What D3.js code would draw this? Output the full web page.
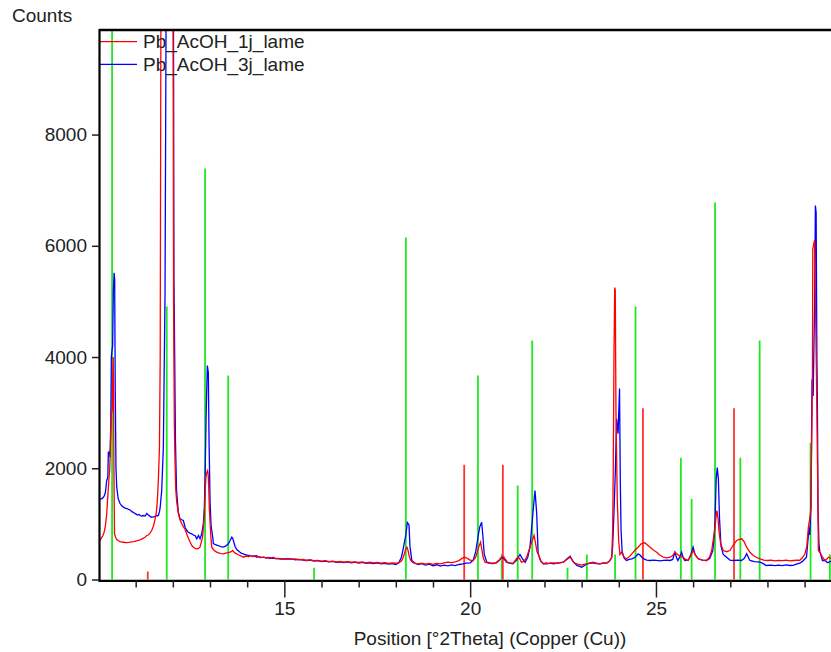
<!DOCTYPE html>
<html><head><meta charset="utf-8">
<script src="https://cdn.jsdelivr.net/npm/d3@7"></script>
<style>
html,body{margin:0;padding:0;background:#fff;}
svg{display:block;font-family:"Liberation Sans",Arial,sans-serif;}
</style></head><body>
<svg id="chart" width="831" height="652"></svg>
<script>
// ---------- data ----------
const seriesNames = ["Pb_AcOH_1j_lame", "Pb_AcOH_3j_lame"];
const seriesColors = ["#ff0000", "#0000ff"];

// [2Theta, counts]
const scan1j = [[10.04,700],[10.07,740],[10.09,760],[10.12,790],[10.15,850],[10.18,940],[10.20,1050],[10.22,1180],[10.24,1400],[10.26,1600],[10.28,1800],[10.30,1960],[10.32,2400],[10.34,2900],[10.35,3000],[10.37,3050],[10.385,3700],[10.395,4000],[10.405,3400],[10.415,2000],[10.43,822],[10.46,760],[10.49,720],[10.53,700],[10.58,680],[10.63,672],[10.67,670],[10.72,665],[10.76,662],[10.81,668],[10.85,671],[10.90,676],[10.95,680],[11.00,690],[11.05,700],[11.09,708],[11.12,714],[11.16,725],[11.20,740],[11.25,760],[11.30,791],[11.34,800],[11.38,830],[11.43,881],[11.48,960],[11.52,1079],[11.55,1180],[11.57,1300],[11.59,1500],[11.61,1780],[11.64,2379],[11.66,4000],[11.68,10500],[11.72,16000],[11.80,22000],[11.90,18000],[11.98,14000],[12.005,10500],[12.02,5000],[12.04,2800],[12.06,2080],[12.08,1600],[12.105,1390],[12.15,1181],[12.19,1080],[12.24,1001],[12.29,940],[12.33,900],[12.37,822],[12.42,740],[12.46,680],[12.51,611],[12.56,575],[12.60,560],[12.64,552],[12.69,560],[12.73,581],[12.77,680],[12.80,760],[12.83,1000],[12.85,1181],[12.867,1541],[12.89,1839],[12.92,1940],[12.935,1960],[12.95,1900],[12.966,1660],[12.98,1300],[13.00,1061],[13.02,800],[13.047,581],[13.09,540],[13.14,510],[13.18,491],[13.23,480],[13.27,470],[13.31,466],[13.36,462],[13.40,470],[13.45,480],[13.49,485],[13.54,491],[13.58,505],[13.61,521],[13.65,490],[13.69,470],[13.72,462],[13.77,440],[13.81,430],[13.85,418],[13.90,401],[13.95,415],[14.00,420],[14.04,410],[14.08,431],[14.13,415],[14.18,410],[14.22,425],[14.26,431],[14.30,410],[14.35,405],[14.40,395],[14.45,401],[14.50,388],[14.55,390],[14.60,398],[14.65,385],[14.70,401],[14.75,380],[14.80,380],[14.85,372],[14.90,375],[15.0,372],[15.1,380],[15.2,362],[15.3,370],[15.4,352],[15.5,360],[15.6,342],[15.7,352],[15.8,338],[15.9,345],[16.0,330],[16.1,338],[16.2,322],[16.3,330],[16.4,318],[16.5,326],[16.6,312],[16.7,322],[16.8,310],[16.9,318],[17.0,306],[17.1,315],[17.2,300],[17.3,312],[17.4,298],[17.5,306],[17.6,292],[17.7,302],[17.8,290],[17.9,300],[18.0,292],[18.08,305],[18.15,330],[18.20,400],[18.24,480],[18.27,560],[18.30,581],[18.33,520],[18.36,420],[18.40,342],[18.45,310],[18.5,290],[18.6,282],[18.7,295],[18.8,275],[18.9,288],[19.0,272],[19.1,290],[19.2,280],[19.3,300],[19.4,311],[19.5,305],[19.6,318],[19.7,340],[19.78,380],[19.85,401],[19.92,380],[20.0,350],[20.08,342],[20.15,400],[20.2,520],[20.24,600],[20.28,671],[20.31,560],[20.35,400],[20.40,311],[20.5,295],[20.6,288],[20.7,300],[20.78,350],[20.85,405],[20.9,413],[20.95,360],[21.0,311],[21.07,300],[21.15,288],[21.22,350],[21.28,401],[21.33,380],[21.38,311],[21.45,330],[21.52,400],[21.61,581],[21.67,700],[21.72,791],[21.76,650],[21.80,500],[21.83,462],[21.9,340],[21.97,282],[22.05,300],[22.1,285],[22.2,298],[22.33,293],[22.4,305],[22.51,311],[22.6,360],[22.69,401],[22.75,350],[22.8,300],[22.87,282],[22.93,270],[23.0,260],[23.07,275],[23.14,282],[23.22,300],[23.31,311],[23.4,295],[23.49,282],[23.58,300],[23.67,293],[23.75,330],[23.81,401],[23.835,881],[23.851,1990],[23.87,4000],[23.89,5250],[23.905,5200],[23.924,3000],[23.96,1400],[23.997,700],[24.03,450],[24.077,491],[24.14,400],[24.21,372],[24.3,420],[24.39,491],[24.45,540],[24.52,581],[24.6,640],[24.70,660],[24.77,620],[24.84,581],[24.93,530],[25.02,491],[25.1,440],[25.20,401],[25.29,390],[25.38,401],[25.45,430],[25.51,491],[25.58,450],[25.65,420],[25.73,401],[25.80,360],[25.87,342],[25.94,430],[26.00,521],[26.07,430],[26.14,372],[26.25,350],[26.36,342],[26.44,400],[26.50,521],[26.56,800],[26.59,940],[26.62,1150],[26.64,1240],[26.67,1100],[26.69,900],[26.74,650],[26.81,521],[26.9,500],[26.99,521],[27.08,620],[27.17,701],[27.24,720],[27.31,731],[27.37,680],[27.44,581],[27.53,490],[27.62,431],[27.7,400],[27.80,372],[27.9,350],[28.0,342],[28.1,350],[28.2,335],[28.3,345],[28.4,338],[28.5,348],[28.6,335],[28.7,342],[28.8,350],[28.87,345],[28.95,400],[29.01,462],[29.06,600],[29.10,940],[29.14,1100],[29.17,1300],[29.21,3578],[29.22,5946],[29.27,6108],[29.32,3578],[29.355,1600],[29.37,520],[29.41,491],[29.48,400],[29.55,342],[29.6,370],[29.64,401],[29.68,390],[29.72,380]];

const scan3j = [[10.04,1450],[10.07,1455],[10.09,1451],[10.12,1470],[10.15,1500],[10.18,1550],[10.20,1650],[10.22,1780],[10.25,1830],[10.265,2290],[10.29,2290],[10.31,2200],[10.33,2800],[10.345,4000],[10.36,4100],[10.38,4200],[10.40,5200],[10.42,5514],[10.435,5400],[10.45,3400],[10.47,2000],[10.49,1660],[10.53,1450],[10.58,1366],[10.62,1330],[10.67,1300],[10.72,1285],[10.76,1276],[10.81,1260],[10.85,1250],[10.90,1220],[10.95,1200],[11.00,1180],[11.05,1160],[11.09,1170],[11.12,1150],[11.16,1140],[11.20,1150],[11.25,1140],[11.30,1186],[11.34,1160],[11.38,1140],[11.43,1120],[11.48,1125],[11.52,1135],[11.55,1150],[11.58,1140],[11.61,1150],[11.64,1220],[11.66,1300],[11.70,1600],[11.745,2379],[11.764,3578],[11.79,5140],[11.82,10500],[11.86,20000],[11.95,18000],[12.00,13000],[12.015,11000],[12.03,5400],[12.05,4000],[12.07,2500],[12.10,1600],[12.148,1210],[12.194,1091],[12.24,1075],[12.283,1061],[12.329,940],[12.374,880],[12.417,850],[12.46,835],[12.509,822],[12.55,800],[12.598,791],[12.643,731],[12.69,791],[12.732,731],[12.778,822],[12.821,1001],[12.848,1300],[12.867,1780],[12.893,2860],[12.928,3848],[12.955,3720],[12.974,2500],[13.001,1420],[13.028,970],[13.074,760],[13.09,647],[13.15,625],[13.216,611],[13.29,590],[13.359,581],[13.42,600],[13.493,642],[13.54,700],[13.585,760],[13.612,740],[13.628,701],[13.674,593],[13.72,540],[13.808,491],[13.85,470],[13.9,460],[13.95,445],[14.0,440],[14.077,431],[14.15,420],[14.2,428],[14.257,401],[14.3,410],[14.35,395],[14.435,401],[14.5,390],[14.55,395],[14.6,382],[14.704,385],[14.796,372],[14.85,378],[14.9,365],[15.0,372],[15.1,365],[15.2,372],[15.3,355],[15.4,362],[15.5,348],[15.6,342],[15.7,350],[15.8,332],[15.9,340],[16.0,322],[16.1,330],[16.2,316],[16.3,325],[16.4,308],[16.5,318],[16.6,302],[16.7,315],[16.8,300],[16.9,312],[17.0,296],[17.1,308],[17.2,292],[17.3,300],[17.4,286],[17.5,298],[17.6,280],[17.7,292],[17.8,275],[17.9,285],[18.0,270],[18.08,300],[18.15,400],[18.20,557],[18.24,700],[18.27,800],[18.31,1025],[18.355,980],[18.38,600],[18.43,342],[18.5,300],[18.6,270],[18.7,285],[18.8,260],[18.9,275],[19.0,248],[19.1,265],[19.2,240],[19.3,258],[19.4,245],[19.5,262],[19.6,250],[19.7,270],[19.8,280],[19.9,293],[20.0,300],[20.08,342],[20.15,500],[20.22,800],[20.26,950],[20.31,1030],[20.34,800],[20.38,450],[20.45,311],[20.52,300],[20.6,288],[20.7,300],[20.78,340],[20.85,401],[20.9,380],[20.98,311],[21.05,295],[21.15,282],[21.25,350],[21.34,450],[21.4,380],[21.48,311],[21.55,400],[21.61,581],[21.69,1200],[21.745,1600],[21.79,1200],[21.83,462],[21.9,330],[21.97,282],[22.05,280],[22.15,295],[22.25,283],[22.33,293],[22.42,300],[22.51,311],[22.6,370],[22.69,419],[22.76,330],[22.87,252],[22.93,240],[23.0,221],[23.07,250],[23.14,282],[23.22,290],[23.31,300],[23.4,285],[23.49,282],[23.58,295],[23.67,293],[23.75,330],[23.81,401],[23.835,600],[23.87,1200],[23.91,2000],[23.94,2890],[23.98,2620],[24.02,3434],[24.04,1800],[24.06,900],[24.09,500],[24.15,380],[24.21,342],[24.28,360],[24.35,372],[24.44,400],[24.52,462],[24.57,440],[24.65,380],[24.75,350],[24.84,342],[24.93,350],[25.02,342],[25.12,335],[25.2,342],[25.3,350],[25.38,342],[25.45,360],[25.51,491],[25.56,380],[25.59,342],[25.65,420],[25.69,491],[25.74,380],[25.78,342],[25.87,350],[25.94,450],[26.0,581],[26.05,450],[26.14,372],[26.25,350],[26.36,342],[26.45,380],[26.53,521],[26.57,800],[26.59,1061],[26.62,1800],[26.65,2014],[26.68,1800],[26.71,1100],[26.75,600],[26.81,450],[26.9,401],[26.99,350],[27.1,342],[27.2,350],[27.3,342],[27.38,380],[27.44,462],[27.5,380],[27.53,342],[27.65,320],[27.8,311],[27.9,280],[27.96,252],[28.1,260],[28.2,248],[28.3,258],[28.4,250],[28.5,262],[28.6,252],[28.69,255],[28.78,275],[28.87,293],[28.95,330],[29.05,401],[29.12,940],[29.14,800],[29.17,1300],[29.20,3600],[29.23,3300],[29.27,5000],[29.29,6724],[29.31,6600],[29.33,4000],[29.345,3070],[29.36,1290],[29.385,650],[29.41,500],[29.48,342],[29.55,342],[29.62,300],[29.68,320],[29.72,330]];

// reference patterns (sticks): [2Theta, counts]
const greenSticks = [[10.365,9900],[11.836,4908],[12.867,7389],[13.49,3667],[15.80,210],[18.27,6148],[20.21,3667],[20.85,462],[21.28,1690],[21.67,4297],[22.62,210],[23.14,450],[23.90,450],[24.45,4908],[25.67,2188],[25.96,1450],[26.59,6778],[27.27,2188],[27.79,4297],[29.16,2457],[29.68,450]];
const redSticks = [[11.325,144],[19.84,2062],[20.88,2062],[24.65,3080],[27.10,3080]];

const xMajorTicks = [15, 20, 25];
const xMinorTicks = [11,12,13,14,16,17,18,19,21,22,23,24,26,27,28,29];
const yTicks = [0, 2000, 4000, 6000, 8000];
const xDomain = [10.04, 29.71];
const yDomain = [0, 9880];

// ---------- drawing ----------
const svg = d3.select("#chart");
const L = 100, R = 831, T = 30, B = 579.5;
const FS = 19;
const x = d3.scaleLinear().domain(xDomain).range([L, R]);
const y = d3.scaleLinear().domain(yDomain).range([B, T]);
const txt = "#222";

svg.append("defs").append("clipPath").attr("id","plotclip")
  .append("rect").attr("x", L).attr("y", T).attr("width", R - L).attr("height", B - T + 1);

const plot = svg.append("g").attr("clip-path","url(#plotclip)");

plot.selectAll("line.gs").data(greenSticks).enter().append("line")
  .attr("class","gs")
  .attr("x1", d => x(d[0])).attr("x2", d => x(d[0]))
  .attr("y1", y(0)).attr("y2", d => y(d[1]))
  .attr("stroke", "#1ee81e").attr("stroke-width", 1.8);

plot.selectAll("line.rs").data(redSticks).enter().append("line")
  .attr("class","rs")
  .attr("x1", d => x(d[0])).attr("x2", d => x(d[0]))
  .attr("y1", y(0)).attr("y2", d => y(d[1]))
  .attr("stroke", "#ff3030").attr("stroke-width", 1.8);

const line = d3.line().x(d => x(d[0])).y(d => y(d[1]));
plot.append("path").datum(scan3j).attr("d", line)
  .attr("fill","none").attr("stroke", seriesColors[1]).attr("stroke-width", 1.3);
plot.append("path").datum(scan1j).attr("d", line)
  .attr("fill","none").attr("stroke", seriesColors[0]).attr("stroke-width", 1.3);

// legend
const lg = svg.append("g");
seriesNames.forEach((n, i) => {
  const ly = 41.7 + i * 22.6;
  lg.append("line").attr("x1", L).attr("x2", 137).attr("y1", ly).attr("y2", ly)
    .attr("stroke", seriesColors[i]).attr("stroke-width", 1.3);
  lg.append("text").attr("x", 143).attr("y", ly + 6.5).text(n)
    .attr("font-size", FS).attr("fill", txt);
});

// frame
svg.append("line").attr("x1", L - 1).attr("x2", R).attr("y1", T).attr("y2", T)
  .attr("stroke", "#000").attr("stroke-width", 2.4);
svg.append("line").attr("x1", 99.5).attr("x2", 99.5).attr("y1", T - 1).attr("y2", 581.5)
  .attr("stroke", "#000").attr("stroke-width", 2.2);
svg.append("line").attr("x1", 98.5).attr("x2", R).attr("y1", 580.8).attr("y2", 580.8)
  .attr("stroke", "#000").attr("stroke-width", 2.2);

// x axis
const xAxisMajor = d3.axisBottom(x).tickValues(xMajorTicks).tickSize(17).tickPadding(4)
  .tickFormat(d3.format("d"));
const gx = svg.append("g").attr("transform", "translate(0,580.5)").call(xAxisMajor);
gx.select(".domain").remove();
gx.selectAll(".tick line").attr("stroke", "#222").attr("stroke-width", 1.5);
gx.selectAll(".tick text").attr("font-size", FS).attr("fill", txt)
  .attr("font-family", "Liberation Sans, Arial, sans-serif");

const xAxisMinor = d3.axisBottom(x).tickValues(xMinorTicks).tickSize(7).tickFormat("");
const gxm = svg.append("g").attr("transform", "translate(0,580.5)").call(xAxisMinor);
gxm.select(".domain").remove();
gxm.selectAll(".tick line").attr("stroke", "#222").attr("stroke-width", 1.5);

// y axis
const yAxis = d3.axisLeft(y).tickValues(yTicks).tickSize(7.5).tickPadding(5)
  .tickFormat(d3.format("d"));
const gy = svg.append("g").attr("transform", "translate(99.5,0)").call(yAxis);
gy.select(".domain").remove();
gy.selectAll(".tick line").attr("stroke", "#222").attr("stroke-width", 1.5);
gy.selectAll(".tick text").attr("font-size", FS).attr("fill", txt)
  .attr("font-family", "Liberation Sans, Arial, sans-serif");

// titles
svg.append("text").attr("x", 12).attr("y", 21.5).text("Counts")
  .attr("font-size", FS).attr("fill", txt);
svg.append("text").attr("x", 490).attr("y", 645).attr("text-anchor", "middle")
  .text("Position [°2Theta] (Copper (Cu))")
  .attr("font-size", FS).attr("fill", txt);
</script>
</body></html>
